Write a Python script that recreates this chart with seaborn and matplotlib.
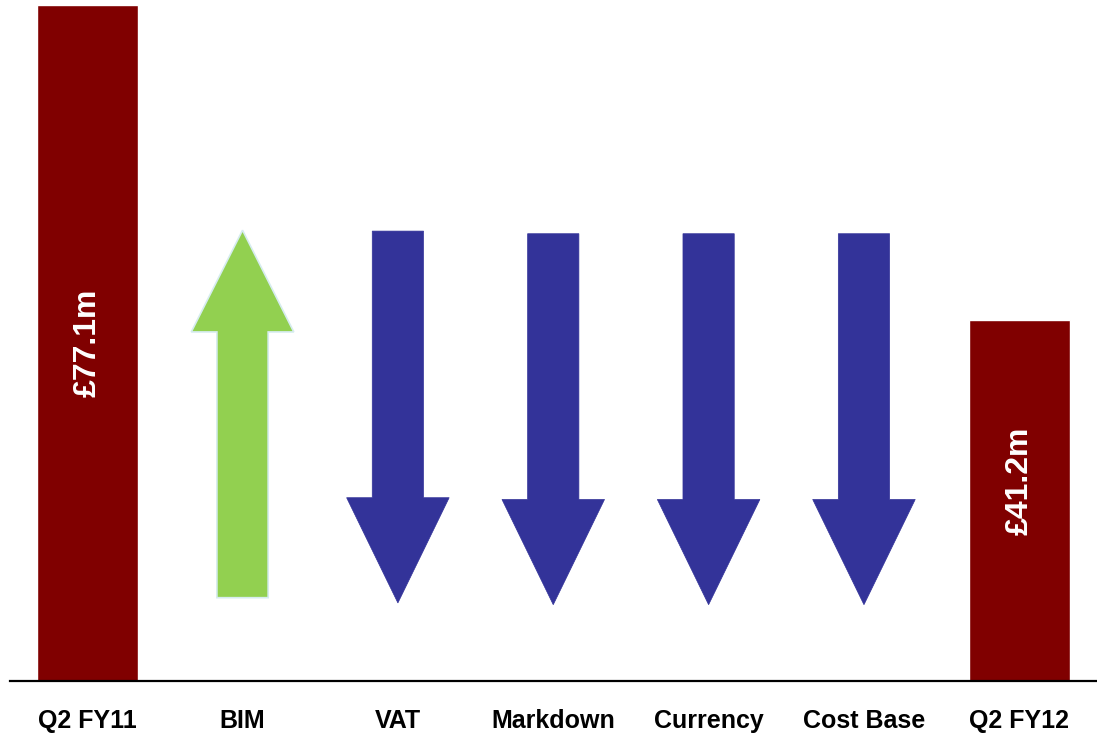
import seaborn as sns
import matplotlib.pyplot as plt
import pandas as pd

# categories along the x axis
categories = ["Q2 FY11", "BIM", "VAT", "Markdown", "Currency", "Cost Base", "Q2 FY12"]

# totals shown as bars (GBP millions)
bar_cats = ["Q2 FY11", "Q2 FY12"]
bar_values = [77.1, 41.2]
bar_labels = ["£77.1m", "£41.2m"]

# movements drawn as arrows (start -> end, chart units)
arrow_cats = ["BIM", "VAT", "Markdown", "Currency", "Cost Base"]
arrow_start = [9.5, 51.3, 51.0, 51.0, 51.0]
arrow_end = [51.4, 8.9, 8.7, 8.7, 8.7]

df = pd.DataFrame({"Category": bar_cats, "Value": bar_values})

sns.set_style("white")
plt.rcParams["font.family"] = ["Liberation Sans", "DejaVu Sans"]

fig = plt.figure(figsize=(10.97, 7.36), dpi=100)
ax = fig.add_axes([9.5 / 1097, 55 / 736, 1 - 9.5 / 1097, 681 / 736])

sns.barplot(data=df, x="Category", y="Value", order=categories,
            color="#800000", saturation=1, width=0.65, ax=ax)

for cat, val, lab, frac in zip(bar_cats, bar_values, bar_labels, [0.5, 0.555]):
    ax.text(categories.index(cat), val * frac, lab, rotation=90,
            ha="center", va="center", color="white",
            fontsize=23, fontweight="bold", family="Liberation Sans")

for cat, y0, y1 in zip(arrow_cats, arrow_start, arrow_end):
    up = y1 > y0
    ax.arrow(categories.index(cat), y0, 0, y1 - y0,
             width=0.33, head_width=0.66, head_length=11.6 if up else 12.0,
             length_includes_head=True,
             facecolor="#92D050" if up else "#333399",
             edgecolor="#D6ECEF" if up else "#333399",
             linewidth=1.2 if up else 0.5, zorder=3)

ax.set_ylim(0, 77.65)
ax.set_xlim(-0.5, len(categories) - 0.5)
ax.set_xlabel("")
ax.set_ylabel("")
ax.set_yticks([])
for s in ["top", "left", "right"]:
    ax.spines[s].set_visible(False)
ax.spines["bottom"].set_color("black")
ax.spines["bottom"].set_linewidth(1.6)
ax.tick_params(axis="x", length=0, pad=20)
for t in ax.get_xticklabels():
    t.set_fontweight("bold")
    t.set_fontsize(18)
    t.set_color("black")

plt.savefig("out.png", dpi=100)
plt.close()
